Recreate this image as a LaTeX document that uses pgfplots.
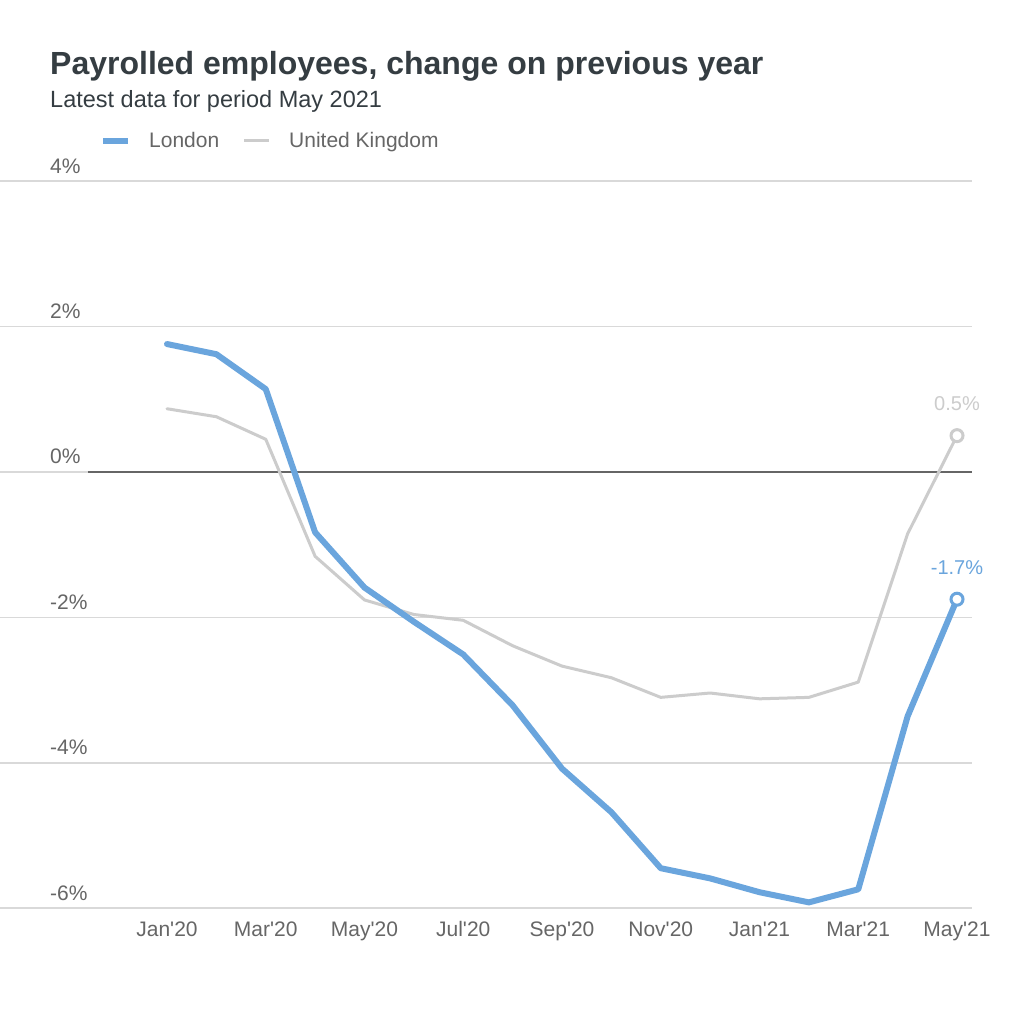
\documentclass[border=0pt]{standalone}
\usepackage{fontspec}
\setmainfont{Liberation Sans}
\usepackage{pgfplots}
\pgfplotsset{compat=1.18}
\definecolor{ldn}{HTML}{6AA5DD}
\definecolor{uk}{HTML}{CCCCCC}
\definecolor{tickc}{HTML}{666666}
\definecolor{ttl}{HTML}{353D42}
\definecolor{gridc}{HTML}{D9D9D9}
\newcommand{\q}{\textquotesingle}
\begin{document}
\begin{tikzpicture}[x=1pt,y=1pt]
\useasboundingbox[fill=white] (0,0) rectangle (1024,1024);
\node[anchor=base west,inner sep=0pt,text=ttl,font=\fontsize{32}{38}\selectfont\bfseries] at (50,949) {Payrolled employees, change on previous year};
\node[anchor=base west,inner sep=0pt,text=ttl,font=\fontsize{23.5}{28}\selectfont] at (50,916) {Latest data for period May 2021};
\draw[ldn,line width=6pt] (103,883) -- (128,883);
\node[anchor=base west,inner sep=0pt,text=tickc,font=\fontsize{21}{25}\selectfont] at (149,876) {London};
\draw[uk,line width=3pt] (244,883) -- (269,883);
\node[anchor=base west,inner sep=0pt,text=tickc,font=\fontsize{21}{25}\selectfont] at (289,876) {United Kingdom};
\begin{axis}[
  at={(167pt,552pt)}, anchor=origin,
  width=972pt, height=727pt, scale only axis,
  xmin=-3.382, xmax=16.304, ymin=-6, ymax=4,
  axis line style={draw=none},
  clip=false,
  xtick={0,2,...,16},
  xticklabels={Jan\q20,Mar\q20,May\q20,Jul\q20,Sep\q20,Nov\q20,Jan\q21,Mar\q21,May\q21},
  ytick={-6,-4,-2,0,2,4},
  yticklabels={-6\%,-4\%,-2\%,0\%,2\%,4\%},
  major tick length=0pt,
  xmajorgrids=false, ymajorgrids=true,
  major grid style={draw=gridc, line width=1.6pt},
  xticklabel style={anchor=base, inner sep=0pt, yshift=-28pt, text=tickc, font=\fontsize{21}{25}\selectfont},
  yticklabel style={anchor=base west, inner sep=0pt, xshift=50pt, yshift=8pt, text=tickc, font=\fontsize{21}{25}\selectfont},
  /pgf/number format/assume math mode=true,
]
\draw[tickc, line width=1.3pt] (axis cs:-1.6,0) -- (axis cs:16.304,0);
\addplot[uk, line width=3pt, line join=round, line cap=round] coordinates {
(0,0.87)(1,0.76)(2,0.45)(3,-1.16)(4,-1.76)(5,-1.96)(6,-2.04)(7,-2.39)(8,-2.67)(9,-2.83)(10,-3.10)(11,-3.04)(12,-3.12)(13,-3.10)(14,-2.89)(15,-0.85)(16,0.50)};
\addplot[ldn, line width=6pt, line join=round, line cap=round] coordinates {
(0,1.76)(1,1.62)(2,1.14)(3,-0.83)(4,-1.59)(5,-2.06)(6,-2.51)(7,-3.21)(8,-4.08)(9,-4.68)(10,-5.45)(11,-5.59)(12,-5.78)(13,-5.92)(14,-5.74)(15,-3.36)(16,-1.75)};
\addplot[uk, line width=3pt, mark=*, mark size=6pt, mark options={fill=white}, only marks,
  nodes near coords={0.5\%}, every node near coord/.style={text=uk, font=\fontsize{20}{24}\selectfont, anchor=base, yshift=25pt}] coordinates {(16,0.50)};
\addplot[ldn, line width=3pt, mark=*, mark size=6pt, mark options={fill=white}, only marks,
  nodes near coords={-1.7\%}, every node near coord/.style={text=ldn, font=\fontsize{20}{24}\selectfont, anchor=base, yshift=25pt}] coordinates {(16,-1.75)};
\end{axis}
\end{tikzpicture}
\end{document}
